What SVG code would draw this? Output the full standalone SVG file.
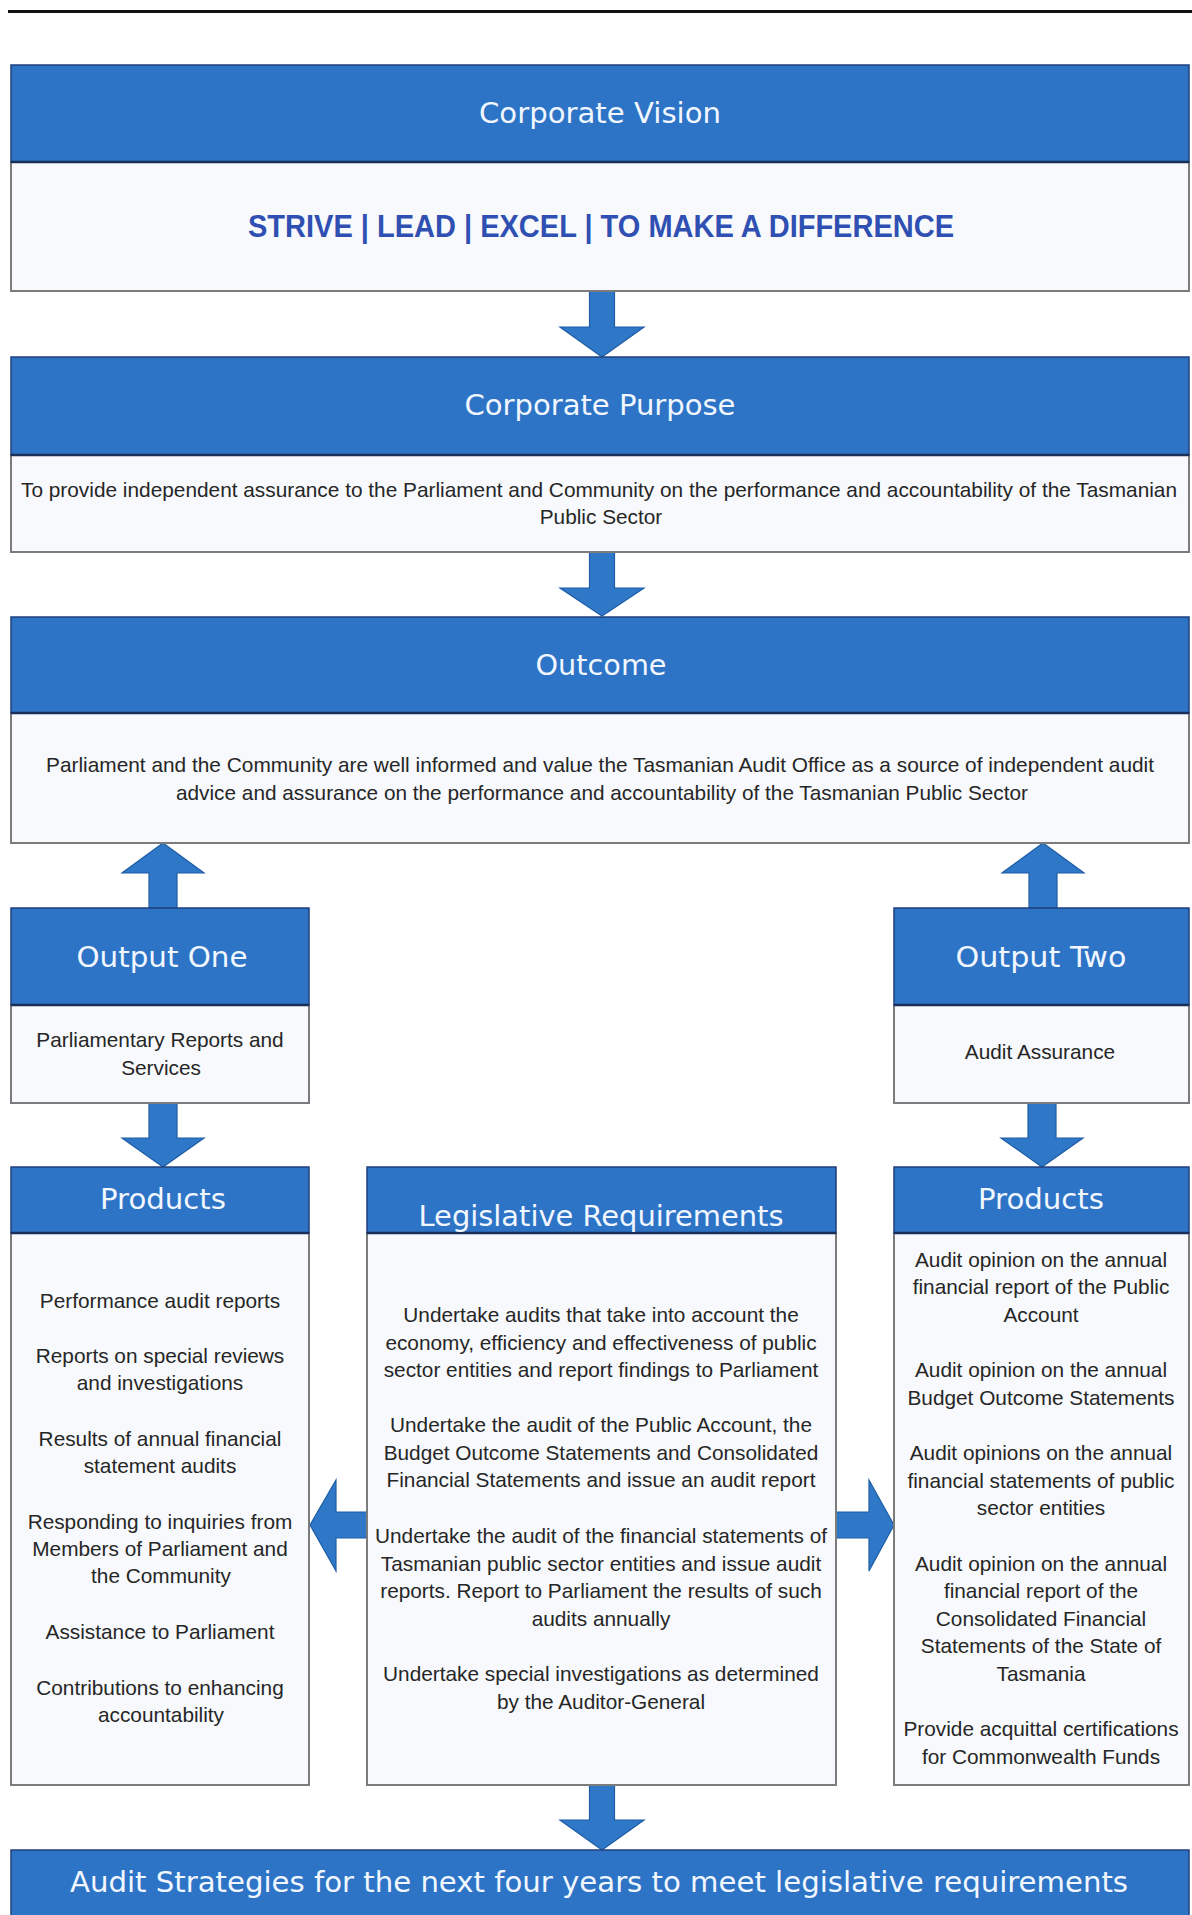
<svg xmlns="http://www.w3.org/2000/svg" width="1192" height="1915" viewBox="0 0 1192 1915">
<style>
.hd{fill:#2D74C6;stroke:#1F3F7C;stroke-width:1.5}
.bd{fill:#F7F9FC;stroke:#7C7C7C;stroke-width:2}
.dv{stroke:#1A2E58;stroke-width:2.5}
.ttl{font-family:"DejaVu Sans",Verdana,sans-serif;font-size:29px;fill:#F2F7FF;text-anchor:middle}
.tx{font-family:"Liberation Sans",Arial,sans-serif;font-size:20.8px;fill:#262626;text-anchor:middle}
.arr{fill:#2F78C8;stroke:#1E5DA6;stroke-width:1.2}
</style>
<rect width="1192" height="1915" fill="#FFFFFF"/>
<line x1="8" y1="11.5" x2="1192" y2="11.5" stroke="#111" stroke-width="3"/>

<g id="connectors">
<polygon class="arr" points="589.5,291 614.5,291 614.5,327 644,327 602,357 560,327 589.5,327"/>
<polygon class="arr" points="589.5,552 614.5,552 614.5,588 644,588 602,616 560,588 589.5,588"/>
<polygon class="arr" points="149,908 177,908 177,873 204,873 163,843 122,873 149,873"/>
<polygon class="arr" points="1029,908 1057,908 1057,873 1084,873 1043,843 1002,873 1029,873"/>
<polygon class="arr" points="149,1103 177,1103 177,1138 204,1138 163,1167 122,1138 149,1138"/>
<polygon class="arr" points="1028,1103 1056,1103 1056,1138 1083,1138 1042,1167 1001,1138 1028,1138"/>
<polygon class="arr" points="367,1512 336,1512 336,1480 310,1525 336,1571 336,1538 367,1538"/>
<polygon class="arr" points="836,1512 869,1512 869,1480 894,1525 869,1571 869,1538 836,1538"/>
<polygon class="arr" points="589.5,1785 614.5,1785 614.5,1820 644,1820 602,1850 560,1820 589.5,1820"/>
</g>

<g id="corporate-vision">
<rect class="bd" x="11" y="162" width="1178" height="129"/>
<rect class="hd" x="11" y="65" width="1178" height="97"/>
<line class="dv" x1="11" y1="162" x2="1189" y2="162"/>
<text class="ttl" x="600" y="123" textLength="242" lengthAdjust="spacingAndGlyphs">Corporate Vision</text>
<text x="601" y="237" font-family="'Liberation Sans',Arial,sans-serif" font-weight="bold" font-size="31" fill="#2F50B2" text-anchor="middle" textLength="706" lengthAdjust="spacingAndGlyphs">STRIVE | LEAD | EXCEL | TO MAKE A DIFFERENCE</text>
</g>

<g id="corporate-purpose">
<rect class="bd" x="11" y="455" width="1178" height="97"/>
<rect class="hd" x="11" y="357" width="1178" height="98"/>
<line class="dv" x1="11" y1="455" x2="1189" y2="455"/>
<text class="ttl" x="600" y="415" textLength="271" lengthAdjust="spacingAndGlyphs">Corporate Purpose</text>
<text class="tx" x="599" y="497" textLength="1156" lengthAdjust="spacingAndGlyphs">To provide independent assurance to the Parliament and Community on the performance and accountability of the Tasmanian</text>
<text class="tx" x="601" y="524">Public Sector</text>
</g>

<g id="outcome">
<rect class="bd" x="11" y="713" width="1178" height="130"/>
<rect class="hd" x="11" y="617" width="1178" height="96"/>
<line class="dv" x1="11" y1="713" x2="1189" y2="713"/>
<text class="ttl" x="601" y="675" textLength="131" lengthAdjust="spacingAndGlyphs">Outcome</text>
<text class="tx" x="600" y="772" textLength="1108" lengthAdjust="spacingAndGlyphs">Parliament and the Community are well informed and value the Tasmanian Audit Office as a source of independent audit</text>
<text class="tx" x="602" y="800" textLength="852" lengthAdjust="spacingAndGlyphs">advice and assurance on the performance and accountability of the Tasmanian Public Sector</text>
</g>

<g id="output-one">
<rect class="bd" x="11" y="1005" width="298" height="98"/>
<rect class="hd" x="11" y="908" width="298" height="97"/>
<line class="dv" x1="11" y1="1005" x2="309" y2="1005"/>
<text class="ttl" x="162" y="967" textLength="171" lengthAdjust="spacingAndGlyphs">Output One</text>
<text class="tx" x="160" y="1047">Parliamentary Reports and</text>
<text class="tx" x="161" y="1075">Services</text>
</g>

<g id="output-two">
<rect class="bd" x="894" y="1005" width="295" height="98"/>
<rect class="hd" x="894" y="908" width="295" height="97"/>
<line class="dv" x1="894" y1="1005" x2="1189" y2="1005"/>
<text class="ttl" x="1041" y="967" textLength="171" lengthAdjust="spacingAndGlyphs">Output Two</text>
<text class="tx" x="1040" y="1059">Audit Assurance</text>
</g>

<g id="products-one">
<rect class="bd" x="11" y="1233" width="298" height="552"/>
<rect class="hd" x="11" y="1167" width="298" height="66"/>
<line class="dv" x1="11" y1="1233" x2="309" y2="1233"/>
<text class="ttl" x="163" y="1209" textLength="126" lengthAdjust="spacingAndGlyphs">Products</text>
<text class="tx" x="160" y="1308">Performance audit reports</text>
<text class="tx" x="160" y="1363">Reports on special reviews</text>
<text class="tx" x="160" y="1390">and investigations</text>
<text class="tx" x="160" y="1446">Results of annual financial</text>
<text class="tx" x="160" y="1473">statement audits</text>
<text class="tx" x="160" y="1529">Responding to inquiries from</text>
<text class="tx" x="160" y="1556">Members of Parliament and</text>
<text class="tx" x="161" y="1583">the Community</text>
<text class="tx" x="160" y="1639">Assistance to Parliament</text>
<text class="tx" x="160" y="1695">Contributions to enhancing</text>
<text class="tx" x="161" y="1722">accountability</text>
</g>

<g id="legislative-requirements">
<rect class="bd" x="367" y="1233" width="469" height="552"/>
<rect class="hd" x="367" y="1167" width="469" height="66"/>
<line class="dv" x1="367" y1="1233" x2="836" y2="1233"/>
<text class="ttl" x="601" y="1226" textLength="365" lengthAdjust="spacingAndGlyphs">Legislative Requirements</text>
<text class="tx" x="601" y="1322">Undertake audits that take into account the</text>
<text class="tx" x="601" y="1349.5">economy, efficiency and effectiveness of public</text>
<text class="tx" x="601" y="1377">sector entities and report findings to Parliament</text>
<text class="tx" x="601" y="1432">Undertake the audit of the Public Account, the</text>
<text class="tx" x="601" y="1459.5">Budget Outcome Statements and Consolidated</text>
<text class="tx" x="601" y="1487">Financial Statements and issue an audit report</text>
<text class="tx" x="601" y="1543">Undertake the audit of the financial statements of</text>
<text class="tx" x="601" y="1570.5">Tasmanian public sector entities and issue audit</text>
<text class="tx" x="601" y="1598">reports. Report to Parliament the results of such</text>
<text class="tx" x="601" y="1625.5">audits annually</text>
<text class="tx" x="601" y="1681">Undertake special investigations as determined</text>
<text class="tx" x="601" y="1708.5">by the Auditor-General</text>
</g>

<g id="products-two">
<rect class="bd" x="894" y="1233" width="295" height="552"/>
<rect class="hd" x="894" y="1167" width="295" height="66"/>
<line class="dv" x1="894" y1="1233" x2="1189" y2="1233"/>
<text class="ttl" x="1041" y="1209" textLength="126" lengthAdjust="spacingAndGlyphs">Products</text>
<text class="tx" x="1041" y="1267">Audit opinion on the annual</text>
<text class="tx" x="1041" y="1294">financial report of the Public</text>
<text class="tx" x="1041" y="1322">Account</text>
<text class="tx" x="1041" y="1377">Audit opinion on the annual</text>
<text class="tx" x="1041" y="1405">Budget Outcome Statements</text>
<text class="tx" x="1041" y="1460">Audit opinions on the annual</text>
<text class="tx" x="1041" y="1488">financial statements of public</text>
<text class="tx" x="1041" y="1515">sector entities</text>
<text class="tx" x="1041" y="1571">Audit opinion on the annual</text>
<text class="tx" x="1041" y="1598">financial report of the</text>
<text class="tx" x="1041" y="1626">Consolidated Financial</text>
<text class="tx" x="1041" y="1653">Statements of the State of</text>
<text class="tx" x="1041" y="1681">Tasmania</text>
<text class="tx" x="1041" y="1736">Provide acquittal certifications</text>
<text class="tx" x="1041" y="1764">for Commonwealth Funds</text>
</g>

<g id="audit-strategies">
<rect class="hd" x="11" y="1850" width="1178" height="70"/>
<text class="ttl" x="599" y="1892" textLength="1058" lengthAdjust="spacingAndGlyphs">Audit Strategies for the next four years to meet legislative requirements</text>
</g>
</svg>
